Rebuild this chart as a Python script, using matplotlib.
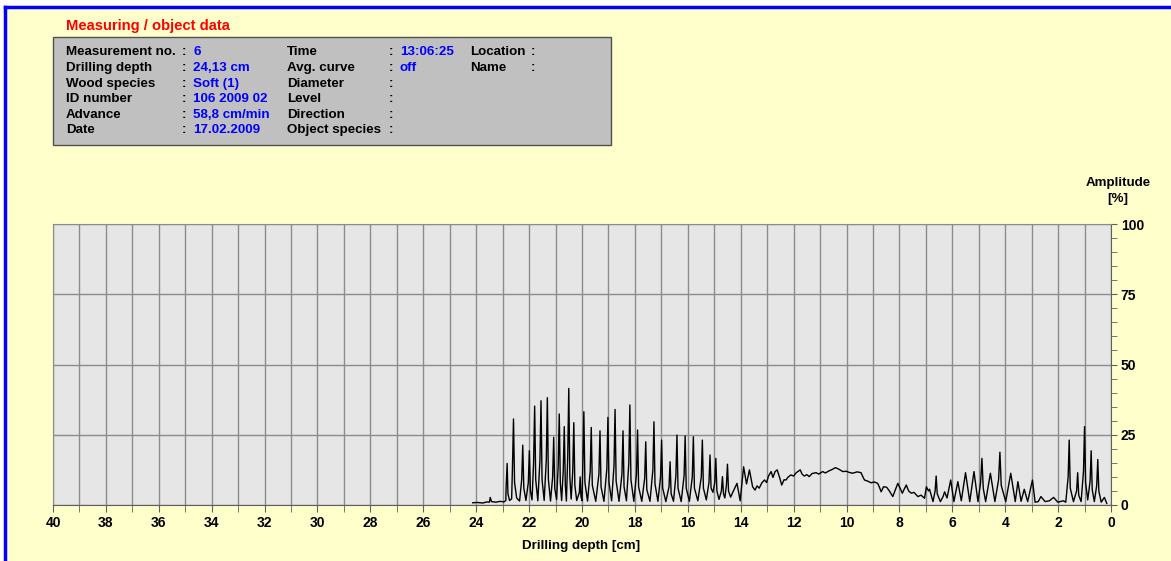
import matplotlib
matplotlib.use("Agg")
import matplotlib.pyplot as plt
from matplotlib.patches import Rectangle
from matplotlib.ticker import MultipleLocator

plt.rcParams["font.family"] = ["Liberation Sans", "DejaVu Sans"]
plt.rcParams["font.weight"] = "bold"

## header data
title = "Measuring / object data"
col1_labels = ["Measurement no.", "Drilling depth", "Wood species", "ID number", "Advance", "Date"]
col1_values = ["6", "24,13 cm", "Soft (1)", "106 2009 02", "58,8 cm/min", "17.02.2009"]
col2_labels = ["Time", "Avg. curve", "Diameter", "Level", "Direction", "Object species"]
col2_values = ["13:06:25", "off", "", "", "", ""]
col3_labels = ["Location", "Name"]

## drilling profile (depth in cm, amplitude in %)
depth_cm = [
    24.13, 23.95, 23.75, 23.6, 23.5, 23.47, 23.42, 23.25, 23.1, 22.95, 22.88,
    22.87, 22.83, 22.80, 22.74, 22.66,
    22.63, 22.59, 22.55, 22.47, 22.36,
    22.28, 22.24, 22.20, 22.12,
    22.03, 21.99, 21.95, 21.89,
    21.83, 21.79, 21.75, 21.67,
    21.59, 21.55, 21.51, 21.43,
    21.35, 21.31, 21.27, 21.19,
    21.11, 21.07, 21.03, 20.96,
    20.90, 20.86, 20.82, 20.77,
    20.71, 20.67, 20.63, 20.59,
    20.54, 20.50, 20.46, 20.41,
    20.35, 20.31, 20.27, 20.2,
    20.10, 20.07, 20.04, 20.0,
    19.97, 19.93, 19.89, 19.79,
    19.69, 19.65, 19.61, 19.48,
    19.36, 19.32, 19.28, 19.17,
    19.06, 19.02, 18.98, 18.88,
    18.79, 18.75, 18.71, 18.6,
    18.49, 18.45, 18.41, 18.32,
    18.23, 18.19, 18.15, 18.04,
    17.94, 17.90, 17.86, 17.74,
    17.63, 17.59, 17.55, 17.43,
    17.32, 17.28, 17.24, 17.13,
    17.03, 16.99, 16.95, 16.83,
    16.71, 16.67, 16.63, 16.54,
    16.45, 16.41, 16.37, 16.25,
    16.14, 16.10, 16.06, 15.94,
    15.83, 15.79, 15.75, 15.62,
    15.49, 15.45, 15.41, 15.3,
    15.20, 15.16, 15.12, 15.05,
    14.98, 14.94, 14.90, 14.82,
    14.73, 14.69, 14.65, 14.6,
    14.54, 14.50, 14.46, 14.38,
    14.3, 14.14, 14.02, 13.89, 13.78, 13.67, 13.55, 13.46, 13.38, 13.3,
    13.2, 13.1, 13.02, 12.95, 12.85, 12.78, 12.7, 12.62, 12.52, 12.45,
    12.36, 12.29, 12.2, 12.1, 12.0, 11.9, 11.75, 11.68, 11.6, 11.5,
    11.41, 11.3, 11.15, 11.05, 10.9, 10.8, 10.65, 10.55, 10.42, 10.3,
    10.14, 10.0, 9.9, 9.77, 9.6, 9.45, 9.38, 9.32, 9.2, 9.07,
    8.95, 8.82, 8.75, 8.69, 8.6, 8.48, 8.38, 8.25, 8.15, 8.06,
    7.95, 7.89, 7.8, 7.74, 7.65, 7.55, 7.45, 7.3, 7.18, 7.05,
    6.98, 6.9, 6.86, 6.73, 6.65, 6.61, 6.57, 6.45, 6.35, 6.29,
    6.2, 6.06, 5.94, 5.79, 5.66, 5.50, 5.34, 5.18, 5.03,
    4.93, 4.88, 4.83, 4.74, 4.56, 4.39,
    4.25, 4.20, 4.15, 3.98, 3.79, 3.62, 3.52, 3.40, 3.28, 3.15,
    2.97, 2.87, 2.75, 2.65, 2.49, 2.33, 2.17, 2.01, 1.8, 1.71,
    1.62, 1.58, 1.54, 1.42,
    1.30, 1.26, 1.22, 1.13,
    1.04, 1.0, 0.96, 0.88,
    0.79, 0.75, 0.71, 0.63,
    0.54, 0.50, 0.46, 0.37,
    0.25, 0.16,
]
amplitude_pct = [
    0.8, 0.9, 0.7, 1.1, 1.0, 2.7, 1.2, 1.0, 1.3, 1.1, 1.6,
    6.0, 14.8, 4.0, 1.6, 2.2,
    13.0, 30.6, 8.0, 2.5, 1.4,
    9.0, 21.3, 6.0, 1.6,
    8.0, 19.3, 5.0, 1.8,
    15.0, 35.2, 9.0, 1.5,
    16.0, 37.1, 9.0, 1.6,
    16.0, 38.2, 9.0, 1.4,
    10.0, 24.1, 6.0, 1.9,
    14.0, 32.4, 8.0, 1.6,
    12.0, 27.9, 7.0, 1.4,
    17.0, 41.5, 10.0, 2.1,
    12.0, 29.3, 7.0, 1.6,
    4.5, 10.0, 3.0, 1.5,
    14.0, 33.2, 8.0, 1.4,
    12.0, 27.6, 7.0, 1.3,
    11.0, 26.4, 6.5, 1.3,
    13.0, 31.2, 8.0, 1.5,
    14.0, 34.0, 8.5, 1.3,
    11.0, 26.4, 6.5, 1.5,
    15.0, 35.6, 9.0, 1.3,
    11.0, 26.7, 6.5, 1.3,
    9.5, 22.5, 5.5, 1.3,
    12.5, 29.6, 7.5, 1.3,
    10.0, 23.1, 6.0, 1.2,
    6.5, 15.4, 4.0, 1.3,
    10.5, 24.9, 6.0, 1.2,
    10.5, 24.6, 6.0, 1.3,
    10.0, 24.3, 6.0, 1.5,
    10.0, 23.1, 6.0, 1.8,
    8.0, 17.8, 6.0, 4.5,
    8.0, 16.6, 5.0, 2.0,
    5.0, 10.1, 4.0, 2.5,
    7.0, 14.5, 5.0, 2.8,
    4.5, 7.7, 1.5, 13.6, 7.5, 12.5, 6.5, 5.3, 6.8, 6.0,
    7.9, 8.9, 8.0, 10.3, 11.9, 9.8, 11.9, 12.5, 9.5, 7.1,
    9.0, 8.9, 10.0, 10.7, 10.3, 11.5, 12.5, 11.0, 10.3, 10.8,
    10.1, 11.2, 11.5, 11.0, 11.9, 11.4, 12.2, 12.6, 13.3, 12.8,
    11.9, 12.0, 11.6, 11.3, 11.8, 11.5, 10.0, 8.9, 8.5, 7.9,
    8.2, 7.7, 6.2, 4.7, 6.5, 6.3, 5.0, 3.0, 5.5, 7.7,
    5.5, 4.2, 6.0, 7.1, 5.0, 4.2, 4.5, 3.0, 3.5, 2.4,
    6.5, 5.0, 5.6, 1.2, 5.0, 10.3, 4.0, 1.2, 3.0, 4.7,
    2.5, 8.9, 1.2, 8.3, 1.5, 11.5, 1.2, 11.9, 1.2,
    8.0, 16.6, 6.0, 1.2, 11.3, 1.2,
    9.0, 18.8, 7.0, 1.2, 11.3, 1.2, 8.3, 1.3, 5.6, 1.2,
    8.9, 1.0, 1.2, 3.0, 1.2, 1.5, 2.7, 1.0, 1.5, 1.0,
    10.0, 23.1, 6.0, 1.2,
    5.0, 11.5, 3.5, 1.2,
    12.0, 27.9, 8.0, 1.8,
    8.5, 19.3, 5.5, 1.2,
    7.0, 16.2, 5.0, 1.0,
    2.7, 0.6,
]

W, H = 1171, 561
YELLOW = "#FFFFCC"
BLUE = "#0000FF"
GRID = "#8C8C8C"
FS = 9.6


def px(x, y):
    # pixel position -> figure fraction
    return x / W, 1 - y / H


fig = plt.figure(figsize=(W / 100, H / 100), dpi=100)
fig.patch.set_facecolor("white")

# yellow page with blue frame on top/left
fig.patches.append(Rectangle(px(5, H + 5), 1, 1, transform=fig.transFigure,
                             facecolor=YELLOW, edgecolor="none", zorder=-10))
fig.add_artist(plt.Line2D([5 / W, 1], [1 - 7 / H] * 2, color=BLUE, lw=2.5))
fig.add_artist(plt.Line2D([5 / W] * 2, [0, 1 - 7 / H], color=BLUE, lw=2.5))

# header
fig.text(*px(66, 26), title, color="#FF0000", fontsize=10.6, va="center")
x0, y0 = px(53, 145)
x1, y1 = px(611, 37)
fig.patches.append(Rectangle((x0, y0), x1 - x0, y1 - y0, transform=fig.transFigure,
                             facecolor="#C0C0C0", edgecolor="#505050", lw=1))
row_y = [52, 68, 84, 99, 115, 130]
for i, yy in enumerate(row_y):
    fig.text(*px(66, yy), col1_labels[i], fontsize=FS, va="center")
    fig.text(*px(182, yy), ":", fontsize=FS, va="center")
    fig.text(*px(193, yy), col1_values[i], fontsize=FS, va="center", color="#0000FF")
    fig.text(*px(287, yy), col2_labels[i], fontsize=FS, va="center")
    fig.text(*px(389, yy), ":", fontsize=FS, va="center")
    fig.text(*px(400, yy), col2_values[i], fontsize=FS, va="center", color="#0000FF")
    if i < len(col3_labels):
        fig.text(*px(470, yy), col3_labels[i], fontsize=FS, va="center")
        fig.text(*px(531, yy), ":", fontsize=FS, va="center")

# plot area
l, b = px(53, 505)
r, t = px(1111, 224)
ax = fig.add_axes([l, b, r - l, t - b])
ax.set_facecolor("#E6E6E6")
ax.plot(depth_cm, amplitude_pct, color="black", lw=1.0, zorder=3)

ax.set_xlim(40, 0)
ax.set_ylim(0, 100)
ax.xaxis.set_major_locator(MultipleLocator(2))
ax.xaxis.set_minor_locator(MultipleLocator(1))
ax.yaxis.set_major_locator(MultipleLocator(25))
ax.yaxis.set_minor_locator(MultipleLocator(5))
ax.yaxis.tick_right()
ax.grid(True, which="major", axis="y", color=GRID, lw=1)
ax.grid(True, which="both", axis="x", color=GRID, lw=1)
ax.set_axisbelow(True)
ax.tick_params(axis="x", which="both", direction="out", length=5, color="#606060",
               labelsize=10, pad=3)
ax.tick_params(axis="y", which="both", direction="out", length=4, color="#606060",
               labelsize=10, pad=3)
ax.set_xticklabels([f"{v:g}" for v in ax.get_xticks()], fontweight="bold")
for lab in ax.get_yticklabels():
    lab.set_fontweight("bold")
for side in ["left", "top"]:
    ax.spines[side].set_color(GRID)
for side in ["bottom", "right"]:
    ax.spines[side].set_color("#606060")

fig.text(*px(581, 546), "Drilling depth [cm]", fontsize=FS, ha="center", va="center")
fig.text(*px(1118, 183), "Amplitude", fontsize=FS, ha="center", va="center")
fig.text(*px(1118, 199), "[%]", fontsize=FS, ha="center", va="center")

fig.savefig("out.png", dpi=100, facecolor=fig.get_facecolor())
